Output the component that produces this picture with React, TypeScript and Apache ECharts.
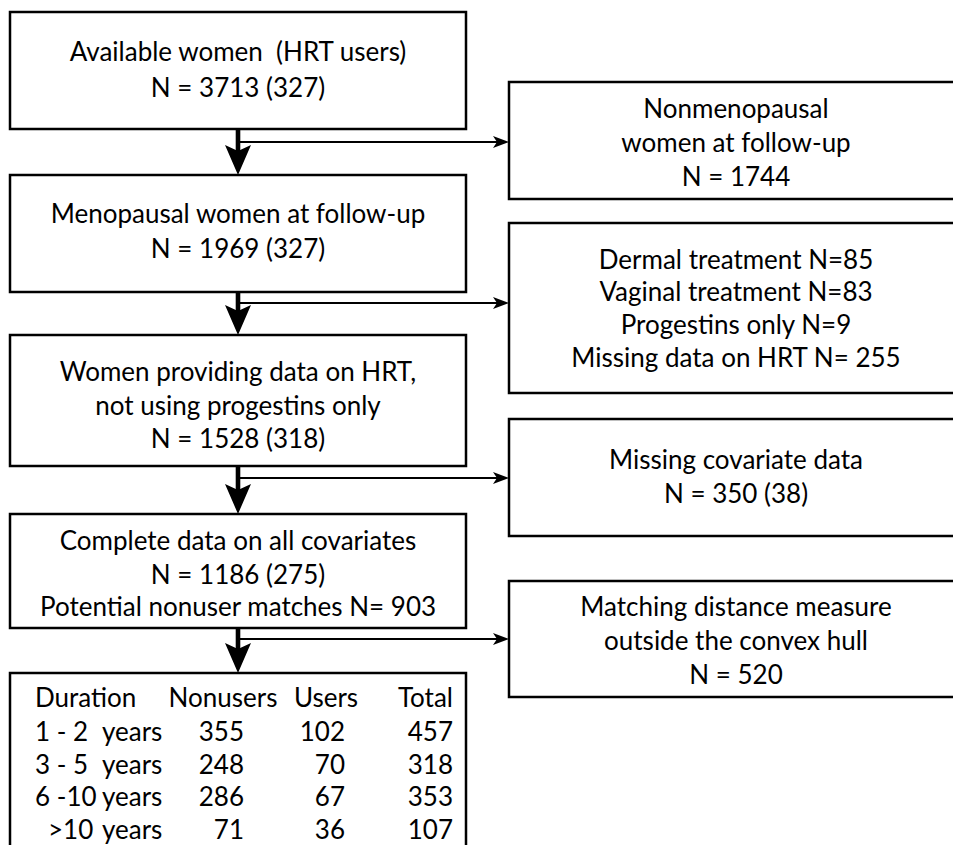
import React, { useEffect, useRef } from "react";
import * as echarts from "echarts";

// ---- content ----
const mainBoxTexts: string[][] = [
  ["Available women  (HRT users)", "N = 3713 (327)"],
  ["Menopausal women at follow-up", "N = 1969 (327)"],
  ["Women providing data on HRT,", "not using progestins only", "N = 1528 (318)"],
  ["Complete data on all covariates", "N = 1186 (275)", "Potential nonuser matches N= 903"],
];
const sideBoxTexts: string[][] = [
  ["Nonmenopausal", "women at follow-up", "N = 1744"],
  ["Dermal treatment N=85", "Vaginal treatment N=83", "Progestins only N=9", "Missing data on HRT N= 255"],
  ["Missing covariate data", "N = 350 (38)"],
  ["Matching distance measure", "outside the convex hull", "N = 520"],
];
const tableHeader = ["Duration", "Nonusers", "Users", "Total"];
const durationRanges = ["1 - 2", "3 - 5", "6 -10", ">10"];
const durationUnit = "years";
const nonusers = [355, 248, 286, 71];
const users = [102, 70, 67, 36];
const totals = [457, 318, 353, 107];

// ---- layout ----
const FONT = "Lato";
const FS = 26;
const LEFT_X = 10;
const LEFT_W = 456;
const LEFT_CX = 238;
const mainBoxY = [
  [12, 129],
  [175, 292],
  [335, 466],
  [514, 628],
  [673, 870],
];
const mainTextY = [
  [51, 87],
  [213, 248],
  [371, 405, 438],
  [540, 574, 606],
];
const SIDE_X = 509;
const SIDE_CX = 736;
const sideBoxY = [
  [82, 199],
  [223, 393],
  [419, 536],
  [581, 697],
];
const sideTextY = [
  [108, 142, 176],
  [259, 291, 324, 357],
  [459, 493],
  [606, 640, 674],
];
const branchY = [142, 303, 478, 639];
const tableRowY = [697, 730.5, 763.5, 796, 829];

function txt(text: string, x: number, y: number, align: string = "center") {
  return {
    type: "text",
    x,
    y,
    style: {
      text,
      fill: "#000",
      fontSize: FS,
      fontFamily: FONT,
      align,
      verticalAlign: "middle",
    },
    z: 10,
  };
}

function rect(x: number, y: number, w: number, h: number) {
  return {
    type: "rect",
    shape: { x, y, width: w, height: h },
    style: { fill: "#fff", stroke: "#000", lineWidth: 2.5 },
    z: 1,
  };
}

export default function App() {
  const ref = useRef<HTMLDivElement>(null);
  useEffect(() => {
    document.body.style.margin = "0";
    const chart = echarts.init(ref.current!, null, { renderer: "svg" });
    const elements: any[] = [];

    mainBoxY.forEach(([y0, y1]) => elements.push(rect(LEFT_X, y0, LEFT_W, y1 - y0)));
    mainBoxTexts.forEach((lines, i) =>
      lines.forEach((l, j) => elements.push(txt(l, LEFT_CX, mainTextY[i][j])))
    );

    sideBoxY.forEach(([y0, y1]) => elements.push(rect(SIDE_X, y0, 470, y1 - y0)));
    sideBoxTexts.forEach((lines, i) =>
      lines.forEach((l, j) => elements.push(txt(l, SIDE_CX, sideTextY[i][j])))
    );

    for (let i = 0; i < 4; i++) {
      const top = mainBoxY[i][1];
      const tip = mainBoxY[i + 1][0];
      const headTop = tip - 30;
      elements.push({
        type: "rect",
        shape: { x: LEFT_CX - 2.3, y: top, width: 4.6, height: headTop - top + 6 },
        style: { fill: "#000" },
        z: 5,
      });
      elements.push({
        type: "polygon",
        shape: {
          points: [
            [LEFT_CX - 13, headTop],
            [LEFT_CX, headTop + 6],
            [LEFT_CX + 13, headTop],
            [LEFT_CX, tip],
          ],
        },
        style: { fill: "#000" },
        z: 5,
      });
      const by = branchY[i];
      elements.push({
        type: "line",
        shape: { x1: LEFT_CX, y1: by, x2: SIDE_X - 8, y2: by },
        style: { stroke: "#000", lineWidth: 2 },
        z: 5,
      });
      elements.push({
        type: "polygon",
        shape: {
          points: [
            [SIDE_X, by],
            [SIDE_X - 16, by - 6],
            [SIDE_X - 12, by],
            [SIDE_X - 16, by + 6],
          ],
        },
        style: { fill: "#000" },
        z: 5,
      });
    }

    const colNonusersRight = 244;
    const colUsersRight = 345;
    const colTotalRight = 453;
    elements.push(txt(tableHeader[0], 35, tableRowY[0], "left"));
    elements.push(txt(tableHeader[1], 223, tableRowY[0], "center"));
    elements.push(txt(tableHeader[2], 326, tableRowY[0], "center"));
    elements.push(txt(tableHeader[3], colTotalRight, tableRowY[0], "right"));
    durationRanges.forEach((r, i) => {
      const y = tableRowY[i + 1];
      elements.push(txt(r, r.startsWith(">") ? 48 : 35, y, "left"));
      elements.push(txt(durationUnit, 102, y, "left"));
      elements.push(txt(String(nonusers[i]), colNonusersRight, y, "right"));
      elements.push(txt(String(users[i]), colUsersRight, y, "right"));
      elements.push(txt(String(totals[i]), colTotalRight, y, "right"));
    });

    chart.setOption({
      animation: false,
      backgroundColor: "#fff",
      graphic: { elements },
    });
    return () => chart.dispose();
  }, []);
  return <div ref={ref} style={{ width: 953, height: 845 }} />;
}
